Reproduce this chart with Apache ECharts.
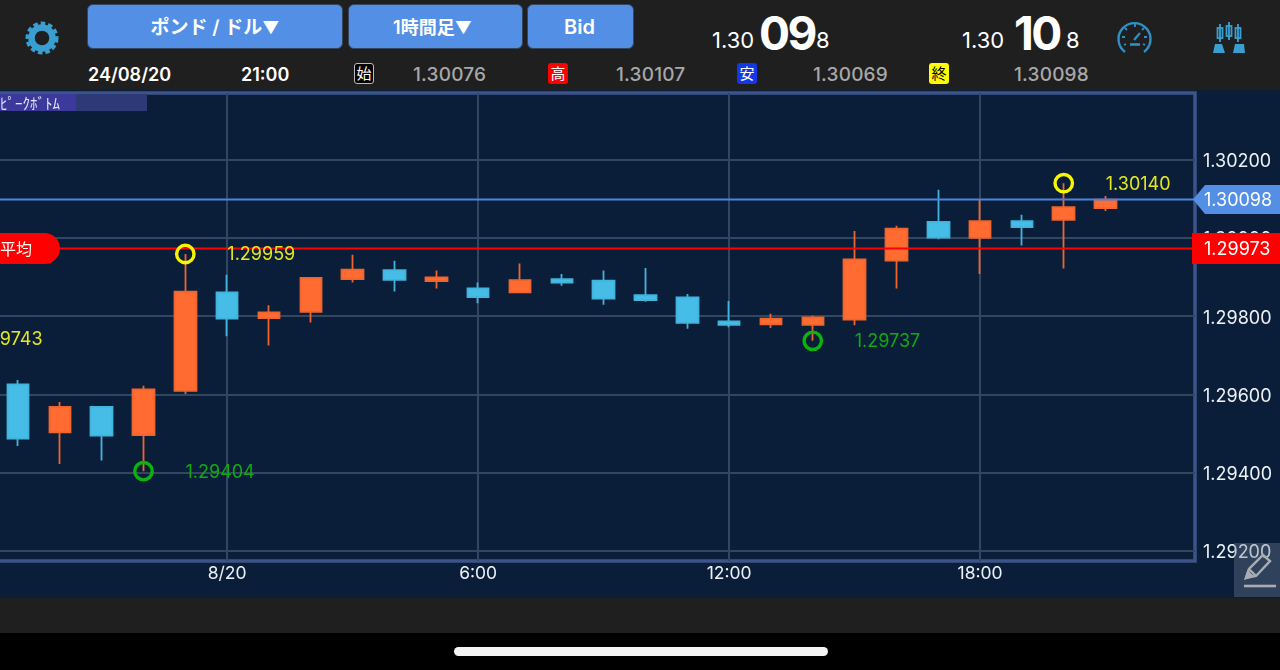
<!DOCTYPE html>
<html>
<head>
<meta charset="utf-8">
<script src="https://cdn.jsdelivr.net/npm/echarts@6/dist/echarts.min.js"></script>
<style>
html,body{margin:0;padding:0;background:#000;width:1280px;height:670px;overflow:hidden;font-family:Inter,"Noto Sans CJK JP",sans-serif;}
#top{position:absolute;left:0;top:0;width:1280px;height:90px;background:#1f1f1f;}
#bottom{position:absolute;left:0;top:598px;width:1280px;height:35px;background:#1f1f1f;}
#home{position:absolute;left:454px;top:647px;width:374px;height:9px;border-radius:5px;background:#f4f4f4;}
#chart{position:absolute;left:-4px;top:90px;width:1284px;height:508px;}
.btn{position:absolute;top:4px;height:45px;line-height:45px;background:#5390e5;border:1px solid #34475f;border-radius:6px;color:#fff;font-size:19px;font-weight:600;text-align:center;box-sizing:border-box;}
.btn b{font-size:17px;font-weight:400;}
.t{position:absolute;white-space:nowrap;color:#fff;}
.row{top:64px;font-size:18px;line-height:22px;}
.val{color:#a8a8a8;font-weight:500;font-size:19px;letter-spacing:.2px;}
.chip{position:absolute;top:63px;width:20px;height:21px;line-height:21px;border-radius:3px;text-align:center;font-size:15px;color:#fff;}
.pr{font-size:22px;line-height:26px;top:27px;font-weight:400;}
.big{font-size:46px;line-height:50px;top:8px;font-weight:700;letter-spacing:-2.5px;}
#pb{position:absolute;left:0;top:94px;width:147px;height:17px;background:#2e3a78;}
#pb i{position:absolute;left:0;top:0;width:76px;height:17px;background:#3b3a9c;}
#pb span{position:absolute;left:0;top:0;font-size:15px;line-height:17px;color:#e8e8f4;font-family:"Noto Sans CJK JP";}
#pen{position:absolute;left:1234px;top:543px;width:46px;height:54px;background:rgba(110,125,145,.38);}
svg{position:absolute;}
</style>
</head>
<body>
<div id="top"></div>
<div id="bottom"></div>
<div id="home"></div>
<div id="chart"></div>

<svg style="left:22px;top:18px" width="40" height="40" viewBox="0 0 40 40">
	<circle cx="20" cy="20" r="10.5" fill="none" stroke="#3a9fd0" stroke-width="6.5"/>
	<circle cx="20" cy="20" r="14.5" fill="none" stroke="#3a9fd0" stroke-width="4" stroke-dasharray="4.5 2.9"/>
</svg>
<div class="btn" style="left:87px;width:256px">ポンド / ドル<b>▼</b></div>
<div class="btn" style="left:348px;width:175px;padding-right:6px;font-size:18px">1時間足<b>▼</b></div>
<div class="btn" style="left:527px;width:107px;font-size:20px;padding-right:2px">Bid</div>

<div class="t row" style="left:88px;font-weight:600">24/08/20</div>
<div class="t row" style="left:241px;font-weight:600">21:00</div>
<div class="chip" style="left:354px;background:#000;border:1px solid #bbb;box-sizing:border-box;line-height:19px">始</div>
<div class="t row val" style="left:413px">1.30076</div>
<div class="chip" style="left:548px;background:#f00">高</div>
<div class="t row val" style="left:616px">1.30107</div>
<div class="chip" style="left:737px;background:#1438e8">安</div>
<div class="t row val" style="left:813px">1.30069</div>
<div class="chip" style="left:929px;background:#ffff00;color:#000">終</div>
<div class="t row val" style="left:1014px">1.30098</div>

<div class="t pr" style="left:712px">1.30</div>
<div class="t big" style="left:759px">09</div>
<div class="t pr" style="left:816px">8</div>
<div class="t pr" style="left:962px">1.30</div>
<div class="t big" style="left:1014px">10</div>
<div class="t pr" style="left:1066px">8</div>

<svg style="left:1116px;top:20px" width="38" height="36" viewBox="0 0 38 36" fill="none" stroke="#2e90c4" stroke-width="2.4">
	<path d="M9 32 A16 16 0 1 1 28 32"/>
	<path d="M14 24.500 H24" stroke-width="2.600"/>
	<path d="M18 20 L24 13" stroke-width="2.200"/>
	<path d="M6 17 H9 M31 17 H28 M19 4 V7 M9 8 L11 10 M28 8 L26 10 M8 25 L10 24 M29 25 L27 24" stroke-width="1.800"/>
</svg>
<svg style="left:1212px;top:22px" width="36" height="34" viewBox="0 0 36 34" fill="none" stroke="#3a9fd0" stroke-width="1.800">
	<rect x="5.500" y="6" width="5" height="10"/><rect x="14.500" y="4" width="5" height="10"/><rect x="23.500" y="6" width="5" height="10"/>
	<path d="M8 2 V20 M17 0 V18 M26 2 V20"/>
	<path d="M3 22 H10 L13 31 H1 Z M23 22 H32 L33 31 H21 Z" fill="#3a9fd0" stroke="none"/>
</svg>

<div id="pb"><i></i><span>ﾋﾟｰｸﾎﾞﾄﾑ</span></div>
<div id="pen">
	<svg style="left:9px;top:9px" width="34" height="36" viewBox="0 0 34 36" fill="none" stroke="#a9adb3" stroke-width="2.4">
		<path d="M3 26 L6 17 L20 3 L27 9 L13 24 Z M6 17 L13 24"/>
		<path d="M3 26 L9 24 L5 20 Z" fill="#a9adb3"/>
		<path d="M1 34 H33" stroke-width="2.6"/>
	</svg>
</div>

<script>
var times = ['19:00','20:00','21:00','22:00','23:00','8/20','1:00','2:00','3:00','4:00','5:00','6:00','7:00','8:00','9:00','10:00','11:00','12:00','13:00','14:00','15:00','16:00','17:00','18:00','19:00','20:00','21:00'];
var opens  = [1.29626,1.29503,1.29568,1.29496,1.29609,1.29861,1.29795,1.29811,1.29895,1.29918,1.29890,1.29871,1.29861,1.29895,1.29891,1.29854,1.29848,1.29787,1.29779,1.29778,1.29791,1.29942,1.30041,1.30000,1.30043,1.30046,1.30076];
var closes = [1.29487,1.29568,1.29495,1.29613,1.29863,1.29794,1.29810,1.29898,1.29919,1.29893,1.29899,1.29849,1.29892,1.29886,1.29845,1.29841,1.29783,1.29778,1.29794,1.29797,1.29945,1.30024,1.30001,1.30043,1.30028,1.30079,1.30098];
var lows   = [1.29468,1.29422,1.29431,1.29404,1.29601,1.29749,1.29725,1.29784,1.29886,1.29863,1.29871,1.29833,1.29860,1.29878,1.29829,1.29837,1.29768,1.29772,1.29770,1.29737,1.29777,1.29871,1.29997,1.29908,1.29981,1.29922,1.30069];
var highs  = [1.29637,1.29581,1.29570,1.29622,1.29959,1.29906,1.29828,1.29898,1.29957,1.29942,1.29917,1.29886,1.29935,1.29908,1.29917,1.29923,1.29857,1.29839,1.29806,1.29801,1.30018,1.30031,1.30123,1.30098,1.30059,1.30140,1.30107];

var yTicks = [1.292,1.294,1.296,1.298,1.300,1.302];
var xTicks = [5,11,17,23];

// peak / bottom markers, first one has its candle off the left edge
var peakIndex = [-2,3,4,19,25];
var peakPrice = [1.29743,1.29404,1.29959,1.29737,1.30140];
var peakKind  = ['peak','bottom','peak','bottom','peak'];

var lastPrice = 1.30098;
var avgPrice = 1.29973;

var xMin = -0.526, xMax = 28.138;
var yMin = 1.291743, yMax = 1.303705;

// the chart div sits 4px left of the page so the grid's left border is hidden
var pageX = 4;

var candles = [];
for (var i=0; i<times.length; i++){
	candles.push([i, opens[i], closes[i], lows[i], highs[i]]);
}
var peaks = [];
for (var i=0; i<peakIndex.length; i++){
	peaks.push([peakIndex[i], peakPrice[i], peakKind[i]=='peak' ? 1 : 0]);
}

function renderPeak(params, api){
	var p = api.coord([api.value(0), api.value(1)]);
	var isPeak = api.value(2)==1;
	return {
		type: 'group',
		children: [{
			type: 'circle',
			shape: {cx: p[0], cy: p[1], r: 8.7},
			style: {fill: 'none', stroke: isPeak ? '#f6f600' : '#0db30d', lineWidth: 3.4}
		},{
			type: 'text',
			style: {
				x: p[0]+42, y: p[1]+1, text: api.value(1).toFixed(5),
				fill: isPeak ? '#e6e61e' : '#10aa10',
				font: '18px Inter', textAlign: 'left', textVerticalAlign: 'middle'
			}
		}]
	};
}

function renderLast(params, api){
	var p = api.coord([xMax, api.value(1)]);
	var y = p[1], x = p[0];
	return {
		type: 'group',
		children: [{
			type: 'line',
			shape: {x1: 0, y1: y, x2: x, y2: y},
			style: {stroke: '#4f82dc', lineWidth: 2}
		},{
			type: 'polygon',
			shape: {points: [[x-2,y],[x+10,y-14.500],[1284,y-14.500],[1284,y+14.500],[x+10,y+14.500]]},
			style: {fill: '#5390e5'}
		},{
			type: 'text',
			style: {x: 1204+pageX, y: y+1, text: api.value(1).toFixed(5), fill: '#fff', font: '18px Inter', textAlign: 'left', textVerticalAlign: 'middle'}
		}]
	};
}

function renderAvg(params, api){
	var p = api.coord([xMax, api.value(1)]);
	var y = p[1], x = p[0];
	return {
		type: 'group',
		children: [{
			type: 'line',
			shape: {x1: 0, y1: y, x2: x, y2: y},
			style: {stroke: '#f00', lineWidth: 2}
		},{
			type: 'rect',
			shape: {x: -20, y: y-15.500, width: 80+pageX, height: 31, r: 15.500},
			style: {fill: '#f00'}
		},{
			type: 'text',
			style: {x: pageX, y: y, text: '平均', fill: '#fff', font: '16px "Noto Sans CJK JP"', textAlign: 'left', textVerticalAlign: 'middle'}
		},{
			type: 'rect',
			shape: {x: x-3, y: y-15.500, width: 1284-x+3, height: 31},
			style: {fill: '#f00'}
		},{
			type: 'text',
			style: {x: 1204+pageX, y: y+1, text: api.value(1).toFixed(5), fill: '#fff', font: '18px Inter', textAlign: 'left', textVerticalAlign: 'middle'}
		}]
	};
}

var chart = echarts.init(document.getElementById('chart'));
chart.setOption({
	animation: false,
	backgroundColor: '#0a1e3a',
	grid: {
		left: 0, top: 3, width: 1199, height: 468,
		show: true, borderColor: '#3e5488', borderWidth: 3.500, backgroundColor: 'transparent'
	},
	xAxis: {
		type: 'value', min: xMin, max: xMax,
		axisLine: {show: false},
		axisTick: {show: false, customValues: xTicks},
		axisLabel: {
			customValues: xTicks, margin: 4, color: '#eef1f5', fontFamily: 'Inter', fontSize: 17.5,
			formatter: function(v){ return times[v]; }
		},
		splitLine: {show: true, lineStyle: {color: '#33465f', width: 2}}
	},
	yAxis: {
		type: 'value', position: 'right', min: yMin, max: yMax,
		axisLine: {show: false},
		axisTick: {show: false, customValues: yTicks},
		axisLabel: {
			customValues: yTicks, margin: 8, color: '#eef1f5', fontFamily: 'Inter', fontSize: 18,
			verticalAlign: 'top', lineHeight: 4,
			formatter: function(v){ return v.toFixed(5); }
		},
		splitLine: {show: true, lineStyle: {color: '#33465f', width: 2}}
	},
	series: [{
		type: 'candlestick',
		data: candles,
		encode: {x: 0, y: [1,2,3,4]},
		barWidth: 22,
		itemStyle: {color: '#ff6b30', color0: '#45bde6', borderColor: '#f0652e', borderColor0: '#40b4dc', borderWidth: 1.8}
	},{
		type: 'custom', data: [[xMax, avgPrice]], renderItem: renderAvg, clip: false, z: 5,
		encode: {x: 0, y: 1}
	},{
		type: 'custom', data: [[xMax, lastPrice]], renderItem: renderLast, clip: false, z: 6,
		encode: {x: 0, y: 1}
	},{
		type: 'custom', data: peaks, renderItem: renderPeak, clip: false, z: 7,
		encode: {x: 0, y: 1}
	}]
});
</script>
</body>
</html>
